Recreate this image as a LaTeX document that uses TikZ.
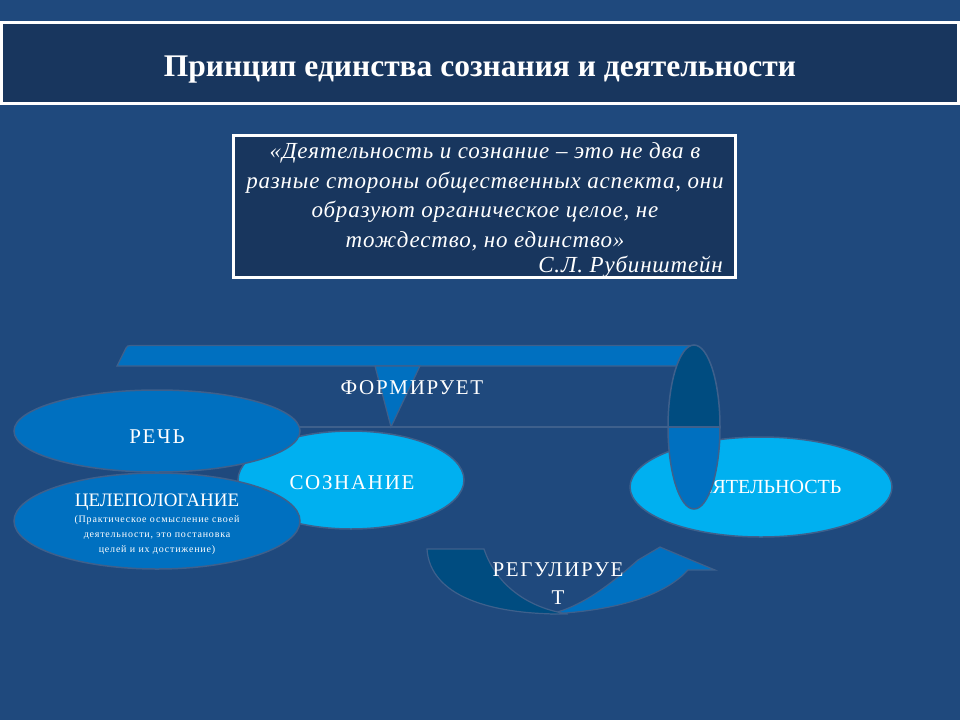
\documentclass[tikz,border=0pt]{standalone}
\usepackage{fontspec}
\setmainfont{Liberation Serif}
\usetikzlibrary{shapes.geometric}

\begin{document}
\begin{tikzpicture}[x=1pt,y=-1pt]
  % Colors
    \definecolor{slidebg}{RGB}{31,73,125}
    \definecolor{boxnavy}{RGB}{24,54,94}
    \definecolor{midblue}{RGB}{0,112,192}
    \definecolor{lightblue}{RGB}{0,176,240}
    \definecolor{darkblue}{RGB}{0,76,128}
    \definecolor{edgeblue}{RGB}{62,96,140}

  % Styles
    \tikzstyle{panel}=[fill=boxnavy,draw=white,line width=3pt]
    \tikzstyle{blob}=[ellipse,draw=edgeblue,line width=1.5pt,inner sep=0pt]
    \tikzstyle{arrowpart}=[draw=edgeblue,line width=1.2pt]
    \tikzstyle{label}=[text=white,inner sep=0pt,align=center,
                       font=\fontsize{21}{28}\selectfont\addfontfeature{LetterSpace=8}]

  % The graphic
    \fill[slidebg] (0,0) rectangle (960,720);
    \useasboundingbox (0,0) rectangle (960,720);

    % title bar
    \draw[panel] (1,22) rectangle (958,103);
    \node[text=white,font=\fontsize{31.5}{34}\selectfont\bfseries] (title) at (480,70)
      {Принцип единства сознания и деятельности};

    % quotation
    \draw[panel] (233,135) rectangle (735,277);
    \node[text=white,align=center,inner sep=0pt,
          font=\fontsize{23}{29.5}\selectfont\itshape\addfontfeature{LetterSpace=3.5}] (quote) at (485,197)
      {«Деятельность и сознание – это не два в\\
       разные стороны общественных аспекта, они\\
       образуют органическое целое, не\\
       тождество, но единство»};
    \node[text=white,anchor=base east,inner sep=0pt,
          font=\fontsize{23}{24}\selectfont\itshape\addfontfeature{LetterSpace=3.5}] (author) at (723,272)
      {С.Л. Рубинштейн};

    % upper curved arrow
    \draw[edgeblue,line width=1.5pt] (230,427) -- (668,427);
    \draw[arrowpart,fill=midblue] (117,366) -- (126,348)
      .. controls (127,346) and (128,345.5) .. (131,345.5) -- (694,345.5) -- (694,366) -- cycle;
    \draw[arrowpart,fill=midblue] (375,366) -- (420,366) -- (391,427) -- cycle;
    \node[label] (forms) at (412,388) {ФОРМИРУЕТ};

    \node[blob,fill=lightblue,minimum width=262,minimum height=100] (activity) at (761,487) {};
    \node[label,font=\fontsize{20}{24}\selectfont] (activitytext) at (764,489) {ДЕЯТЕЛЬНОСТЬ};

    \fill[darkblue] (668,427) arc[start angle=180,end angle=0,x radius=26pt,y radius=82pt] -- cycle;
    \fill[midblue] (668,427) arc[start angle=180,end angle=360,x radius=26pt,y radius=82pt] -- cycle;
    \draw[edgeblue,line width=1.5pt] (668,427) -- (720,427);
    \draw[edgeblue,line width=1.5pt] (694,427) ellipse[x radius=26pt,y radius=82pt];

    \node[blob,fill=lightblue,minimum width=226,minimum height=98] (mind) at (351,480) {};
    \node[label] (mindtext) at (352,483) {СОЗНАНИЕ};
    \node[blob,fill=midblue,minimum width=286,minimum height=82] (speech) at (157,431) {};
    \node[label] (speechtext) at (157,437) {РЕЧЬ};
    \node[blob,fill=midblue,minimum width=286,minimum height=96] (goals) at (157,521) {};
    \node[label,font=\fontsize{19}{22}\selectfont] (goalstitle) at (157,502) {ЦЕЛЕПОЛОГАНИЕ};
    \node[label,font=\fontsize{10}{15}\selectfont\addfontfeature{LetterSpace=8}] (goalstext) at (157,535)
      {(Практическое осмысление своей\\деятельности, это постановка\\целей и их достижение)};

    % lower curved arrow
    \draw[arrowpart,fill=midblue] (550,614) .. controls (585,606) and (615,580) .. (638,560)
      -- (660,547) -- (715,570) -- (688,570)
      .. controls (670,590) and (630,610) .. (550,614) -- cycle;
    \draw[arrowpart,fill=darkblue] (427,549) -- (484,549)
      .. controls (496,585) and (528,608) .. (568,614)
      .. controls (490,615) and (430,596) .. (427,549) -- cycle;
    \node[label] (rules) at (558,584) {РЕГУЛИРУЕ\\Т};
\end{tikzpicture}
\end{document}
